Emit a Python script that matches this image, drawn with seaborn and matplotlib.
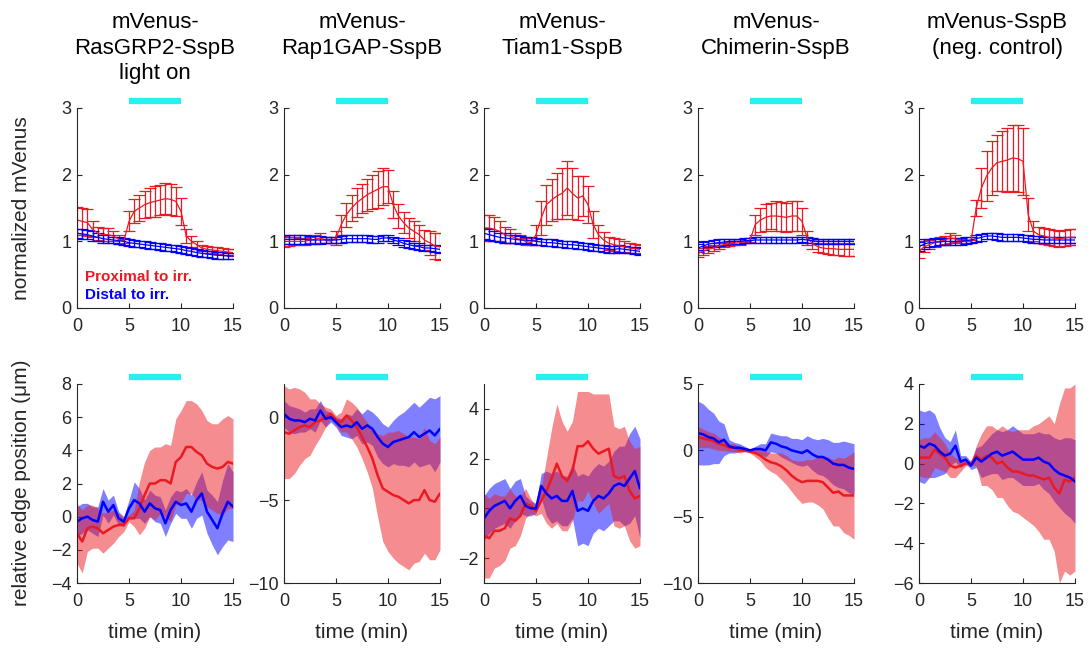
import numpy as np
import matplotlib
matplotlib.use("Agg")
import matplotlib.pyplot as plt
import seaborn as sns

# time points (min)
TIME = np.arange(0, 15.01, 0.5)

TITLES = ["mVenus-\nRasGRP2-SspB\nlight on", "mVenus-\nRap1GAP-SspB", "mVenus-\nTiam1-SspB",
          "mVenus-\nChimerin-SspB", "mVenus-SspB\n(neg. control)"]

# ---- top row: normalized mVenus, mean and error ----
rasgrp2_prox = [1.32, 1.30, 1.28, 1.18, 1.12, 1.10, 1.10, 1.08, 1.03, 1.00, 1.30, 1.45, 1.50, 1.55, 1.58, 1.60,
                1.62, 1.64, 1.63, 1.60, 1.45, 1.08, 1.00, 0.95, 0.90, 0.88, 0.87, 0.86, 0.85, 0.84, 0.83]
rasgrp2_prox_err = [0.20, 0.20, 0.20, 0.12, 0.10, 0.10, 0.10, 0.08, 0.07, 0.03, 0.15, 0.18, 0.20, 0.20, 0.22, 0.23,
                    0.23, 0.23, 0.23, 0.22, 0.20, 0.10, 0.08, 0.06, 0.05, 0.05, 0.05, 0.05, 0.05, 0.05, 0.05]
rasgrp2_dist = [1.12, 1.11, 1.10, 1.08, 1.06, 1.04, 1.03, 1.02, 1.01, 1.00, 0.98, 0.97, 0.96, 0.95, 0.94, 0.93,
                0.92, 0.91, 0.90, 0.89, 0.88, 0.86, 0.85, 0.83, 0.82, 0.81, 0.80, 0.79, 0.79, 0.78, 0.78]
rasgrp2_dist_err = [0.07, 0.07, 0.07, 0.07, 0.06, 0.06, 0.06, 0.05, 0.05, 0.05, 0.05, 0.05, 0.05, 0.05, 0.05, 0.05,
                    0.05, 0.05, 0.05, 0.05, 0.05, 0.05, 0.05, 0.05, 0.05, 0.05, 0.05, 0.05, 0.05, 0.05, 0.05]

rap1gap_prox = [1.00, 1.00, 1.00, 1.00, 1.00, 1.02, 1.03, 1.05, 1.02, 1.00, 1.05, 1.25, 1.40, 1.50, 1.58, 1.64,
                1.70, 1.74, 1.78, 1.82, 1.82, 1.55, 1.38, 1.28, 1.20, 1.15, 1.10, 1.02, 0.98, 0.93, 0.92]
rap1gap_prox_err = [0.08, 0.07, 0.06, 0.05, 0.05, 0.05, 0.06, 0.08, 0.04, 0.03, 0.10, 0.15, 0.18, 0.20, 0.22, 0.22,
                    0.24, 0.26, 0.28, 0.28, 0.25, 0.20, 0.18, 0.16, 0.15, 0.15, 0.15, 0.15, 0.18, 0.20, 0.20]
rap1gap_dist = [1.03, 1.03, 1.03, 1.03, 1.03, 1.02, 1.02, 1.02, 1.02, 1.02, 1.02, 1.03, 1.04, 1.04, 1.04, 1.04,
                1.04, 1.03, 1.03, 1.05, 1.05, 1.02, 1.00, 0.97, 0.95, 0.93, 0.92, 0.90, 0.90, 0.89, 0.88]
rap1gap_dist_err = [0.07, 0.07, 0.07, 0.07, 0.07, 0.06, 0.06, 0.06, 0.05, 0.05, 0.05, 0.05, 0.05, 0.05, 0.05, 0.05,
                    0.05, 0.05, 0.05, 0.05, 0.05, 0.05, 0.05, 0.05, 0.05, 0.05, 0.05, 0.05, 0.05, 0.05, 0.05]

tiam1_prox = [1.20, 1.20, 1.18, 1.15, 1.10, 1.08, 1.05, 1.03, 1.00, 0.98, 1.10, 1.35, 1.55, 1.62, 1.68, 1.72,
              1.80, 1.72, 1.65, 1.68, 1.55, 1.25, 1.10, 1.02, 0.97, 0.95, 0.93, 0.92, 0.90, 0.89, 0.88]
tiam1_prox_err = [0.20, 0.20, 0.18, 0.15, 0.12, 0.10, 0.08, 0.06, 0.05, 0.04, 0.15, 0.25, 0.30, 0.32, 0.35, 0.38,
                  0.40, 0.38, 0.33, 0.30, 0.28, 0.20, 0.15, 0.12, 0.10, 0.10, 0.10, 0.08, 0.08, 0.07, 0.07]
tiam1_dist = [1.12, 1.10, 1.08, 1.06, 1.05, 1.04, 1.03, 1.02, 1.02, 1.01, 1.00, 0.99, 0.98, 0.98, 0.97, 0.96,
              0.95, 0.95, 0.94, 0.93, 0.92, 0.91, 0.90, 0.89, 0.88, 0.88, 0.89, 0.88, 0.87, 0.86, 0.85]
tiam1_dist_err = [0.08, 0.08, 0.08, 0.07, 0.07, 0.06, 0.06, 0.06, 0.05, 0.05, 0.05, 0.05, 0.05, 0.05, 0.05, 0.05,
                  0.05, 0.05, 0.05, 0.05, 0.05, 0.05, 0.05, 0.05, 0.05, 0.05, 0.05, 0.05, 0.05, 0.05, 0.05]

chimerin_prox = [0.82, 0.85, 0.88, 0.90, 0.93, 0.95, 0.96, 0.97, 0.98, 0.99, 1.02, 1.25, 1.32, 1.36, 1.38, 1.38,
                 1.37, 1.36, 1.38, 1.38, 1.30, 1.05, 0.97, 0.92, 0.90, 0.89, 0.89, 0.88, 0.88, 0.88, 0.88]
chimerin_prox_err = [0.05, 0.05, 0.05, 0.04, 0.04, 0.03, 0.03, 0.03, 0.03, 0.02, 0.03, 0.15, 0.18, 0.20, 0.20, 0.22,
                     0.22, 0.22, 0.22, 0.22, 0.20, 0.10, 0.08, 0.08, 0.08, 0.08, 0.09, 0.09, 0.10, 0.10, 0.10]
chimerin_dist = [0.90, 0.93, 0.96, 0.97, 0.98, 0.99, 1.00, 1.00, 1.00, 1.01, 1.01, 1.02, 1.02, 1.02, 1.02, 1.02,
                 1.02, 1.02, 1.02, 1.02, 1.03, 1.02, 1.01, 1.00, 1.00, 1.00, 1.00, 1.00, 1.00, 1.00, 1.00]
chimerin_dist_err = [0.06, 0.06, 0.05, 0.05, 0.05, 0.04, 0.04, 0.04, 0.04, 0.04, 0.04, 0.04, 0.04, 0.04, 0.04, 0.04,
                     0.04, 0.04, 0.04, 0.04, 0.04, 0.04, 0.04, 0.04, 0.04, 0.04, 0.04, 0.04, 0.04, 0.04, 0.04]

sspb_prox = [0.85, 0.92, 0.95, 0.98, 1.00, 1.02, 1.05, 1.04, 1.00, 1.00, 1.00, 1.50, 1.80, 1.98, 2.10, 2.18,
             2.20, 2.22, 2.25, 2.24, 2.20, 1.40, 1.15, 1.10, 1.08, 1.06, 1.05, 1.04, 1.05, 1.06, 1.06]
sspb_prox_err = [0.10, 0.08, 0.07, 0.06, 0.06, 0.06, 0.07, 0.05, 0.03, 0.02, 0.02, 0.12, 0.30, 0.38, 0.40, 0.42,
                 0.45, 0.48, 0.50, 0.50, 0.50, 0.25, 0.15, 0.12, 0.12, 0.12, 0.12, 0.12, 0.12, 0.12, 0.12]
sspb_dist = [0.92, 0.96, 0.98, 0.99, 0.99, 1.00, 1.00, 1.00, 1.00, 1.01, 1.02, 1.04, 1.06, 1.08, 1.08, 1.07,
             1.06, 1.06, 1.06, 1.06, 1.05, 1.04, 1.03, 1.03, 1.02, 1.02, 1.02, 1.02, 1.02, 1.02, 1.02]
sspb_dist_err = [0.07, 0.07, 0.06, 0.06, 0.05, 0.05, 0.05, 0.05, 0.05, 0.05, 0.05, 0.05, 0.05, 0.05, 0.05, 0.05,
                 0.05, 0.05, 0.05, 0.05, 0.05, 0.05, 0.05, 0.05, 0.05, 0.05, 0.05, 0.05, 0.05, 0.05, 0.05]

# ---- bottom row: relative edge position, mean and sd ----
rasgrp2_edge_prox = [-1.0, -1.5, -0.7, -0.6, -0.7, -1.0, -0.8, -0.6, -0.5, -0.5, -0.1, -0.1, 0.5, 1.3, 2.0, 2.0,
                     2.2, 2.2, 2.0, 3.3, 3.6, 4.2, 4.2, 3.9, 3.7, 3.2, 3.0, 2.9, 3.0, 3.3, 3.2]
rasgrp2_edge_prox_sd = [1.8, 1.9, 1.4, 1.3, 1.2, 1.2, 1.1, 1.0, 0.7, 0.4, 0.2, 0.5, 1.6, 2.0, 2.0, 2.2,
                        2.0, 2.2, 2.3, 2.6, 2.8, 2.8, 2.8, 2.9, 2.7, 2.6, 2.6, 2.7, 2.9, 2.8, 2.7]
rasgrp2_edge_dist = [-0.3, -0.1, 0.0, -0.2, -0.3, 0.9, 0.3, 0.7, -0.1, -0.3, 0.5, 1.0, 0.8, 0.3, 0.8, 0.5,
                     0.4, -0.4, 0.4, 0.9, 0.7, 0.8, 0.3, 1.0, 1.4, 0.3, -0.2, -0.7, 0.2, 0.9, 0.6]
rasgrp2_edge_dist_sd = [0.9, 0.9, 0.8, 0.8, 0.9, 0.8, 0.7, 0.6, 0.4, 0.3, 0.5, 1.1, 0.9, 0.7, 0.8, 0.8,
                        0.8, 0.8, 0.8, 0.7, 0.8, 0.9, 1.0, 1.1, 1.3, 1.3, 1.5, 1.6, 2.0, 2.3, 2.1]

rap1gap_edge_prox = [-0.9, -1.0, -0.8, -0.6, -0.5, -0.6, -0.3, -0.2, 0.0, 0.2, -0.2, -0.3, 0.1, -0.2, -0.6, -1.2,
                     -1.8, -2.5, -3.5, -4.3, -4.5, -4.7, -4.8, -5.0, -5.2, -5.0, -5.0, -4.4, -5.0, -5.1, -4.6]
rap1gap_edge_prox_sd = [2.8, 2.7, 2.6, 2.3, 2.0, 1.7, 1.4, 1.0, 0.6, 0.3, 0.3, 0.6, 1.0, 1.1, 1.2, 1.3,
                        1.5, 1.8, 2.5, 3.2, 3.6, 3.8, 4.0, 4.0, 4.0, 3.8, 3.7, 3.8, 3.6, 3.5, 3.4]
rap1gap_edge_dist = [0.2, -0.1, -0.2, -0.2, -0.3, -0.1, -0.2, 0.4, -0.1, 0.0, -0.3, -0.6, -0.5, -0.6, -0.3, -0.7,
                     -0.5, -0.7, -1.2, -1.6, -1.8, -1.5, -1.4, -1.3, -1.2, -0.9, -1.2, -1.0, -0.8, -1.1, -0.7]
rap1gap_edge_dist_sd = [0.8, 0.8, 0.8, 0.7, 0.6, 0.6, 0.7, 0.6, 0.5, 0.3, 0.3, 0.5, 0.7, 0.7, 0.8, 0.9,
                        1.0, 1.0, 1.2, 1.2, 1.2, 1.3, 1.5, 1.6, 1.8, 1.8, 1.8, 1.9, 2.0, 2.2, 2.0]

tiam1_edge_prox = [-1.1, -1.2, -0.9, -0.9, -0.8, -0.4, -0.5, -0.3, 0.2, 0.1, -0.1, 0.3, 0.7, 1.2, 1.8, 1.3,
                   1.1, 1.5, 2.5, 2.5, 2.7, 2.4, 2.2, 2.3, 2.4, 1.3, 1.2, 1.3, 0.7, 0.4, 0.5]
tiam1_edge_prox_sd = [1.7, 1.6, 1.5, 1.4, 1.3, 1.2, 1.0, 0.8, 0.6, 0.3, 0.2, 0.5, 1.3, 2.0, 2.4, 2.2,
                      2.0, 2.0, 2.2, 2.2, 2.0, 2.2, 2.4, 2.3, 2.2, 2.0, 2.0, 2.0, 2.0, 2.0, 2.0]
tiam1_edge_dist = [-0.4, -0.1, 0.1, 0.2, 0.3, 0.0, 0.3, 0.5, 0.1, 0.0, 0.0, 0.9, 0.6, 0.4, 0.5, 0.3,
                   0.3, 0.7, -0.1, 0.0, -0.1, 0.3, 0.5, 0.4, 0.6, 0.9, 1.0, 0.9, 1.2, 1.5, 0.8]
tiam1_edge_dist_sd = [0.9, 0.9, 0.9, 0.9, 0.9, 0.8, 0.8, 0.7, 0.4, 0.3, 0.2, 0.5, 0.9, 1.0, 1.0, 1.0,
                      1.0, 1.1, 1.4, 1.4, 1.4, 1.3, 1.3, 1.3, 1.3, 1.4, 1.5, 1.6, 1.8, 1.8, 2.0]

chimerin_edge_prox = [1.0, 0.9, 0.8, 0.7, 0.5, 0.4, 0.2, 0.2, 0.0, 0.0, -0.1, -0.2, -0.4, -0.7, -0.9, -1.0,
                      -1.2, -1.5, -1.9, -2.2, -2.4, -2.3, -2.3, -2.3, -2.4, -2.8, -3.2, -3.1, -3.4, -3.4, -3.4]
chimerin_edge_prox_sd = [0.8, 0.7, 0.6, 0.6, 0.5, 0.4, 0.3, 0.3, 0.2, 0.1, 0.1, 0.3, 0.4, 0.6, 0.7, 0.8,
                         1.0, 1.1, 1.2, 1.4, 1.6, 1.6, 1.6, 1.8, 2.0, 2.3, 2.5, 2.6, 2.8, 3.0, 3.3]
chimerin_edge_dist = [1.3, 1.2, 1.0, 0.9, 0.6, 0.8, 0.3, 0.2, 0.2, 0.1, 0.0, 0.1, 0.1, 0.0, 0.6, 0.5,
                      0.3, 0.2, 0.0, -0.1, -0.2, 0.0, -0.3, -0.5, -0.5, -0.7, -1.0, -1.1, -1.1, -1.3, -1.4]
chimerin_edge_dist_sd = [2.4, 2.3, 2.1, 1.9, 1.6, 1.2, 0.5, 0.4, 0.3, 0.2, 0.1, 0.2, 0.4, 0.5, 0.7, 0.7,
                         0.8, 0.9, 0.9, 1.0, 1.0, 1.1, 1.2, 1.3, 1.4, 1.5, 1.6, 1.7, 1.8, 1.9, 1.9]

sspb_edge_prox = [0.3, 0.3, 0.3, 0.7, 0.5, 0.3, -0.1, -0.2, -0.1, 0.0, 0.0, 0.4, 0.2, 0.4, 0.3, 0.0,
                  0.1, -0.2, -0.4, -0.4, -0.5, -0.6, -0.6, -0.7, -0.8, -0.7, -1.2, -1.5, -0.8, -0.9, -0.7]
sspb_edge_prox_sd = [0.9, 1.0, 1.0, 0.9, 0.8, 0.7, 0.6, 0.5, 0.3, 0.1, 0.1, 0.5, 1.3, 1.5, 1.6, 1.7,
                     1.8, 1.9, 2.0, 2.1, 2.2, 2.3, 2.5, 2.7, 3.0, 3.1, 3.2, 4.5, 4.6, 4.7, 4.7]
sspb_edge_dist = [0.9, 0.8, 1.0, 0.9, 0.6, 0.4, 0.5, 0.9, 0.1, 0.2, -0.1, 0.3, 0.1, 0.3, 0.5, 0.6,
                  0.4, 0.5, 0.6, 0.4, 0.2, 0.2, 0.2, 0.3, 0.1, 0.0, -0.3, -0.5, -0.6, -0.7, -0.9]
sspb_edge_dist_sd = [1.8, 1.8, 1.7, 1.6, 1.2, 0.9, 0.6, 0.8, 0.3, 0.2, 0.2, 0.5, 0.8, 0.9, 1.0, 1.1,
                     1.2, 1.2, 1.3, 1.3, 1.3, 1.3, 1.3, 1.3, 1.4, 1.5, 1.6, 1.7, 1.9, 2.0, 2.1]

TOP = [
    (rasgrp2_prox, rasgrp2_prox_err, rasgrp2_dist, rasgrp2_dist_err),
    (rap1gap_prox, rap1gap_prox_err, rap1gap_dist, rap1gap_dist_err),
    (tiam1_prox, tiam1_prox_err, tiam1_dist, tiam1_dist_err),
    (chimerin_prox, chimerin_prox_err, chimerin_dist, chimerin_dist_err),
    (sspb_prox, sspb_prox_err, sspb_dist, sspb_dist_err),
]
BOTTOM = [
    (rasgrp2_edge_prox, rasgrp2_edge_prox_sd, rasgrp2_edge_dist, rasgrp2_edge_dist_sd),
    (rap1gap_edge_prox, rap1gap_edge_prox_sd, rap1gap_edge_dist, rap1gap_edge_dist_sd),
    (tiam1_edge_prox, tiam1_edge_prox_sd, tiam1_edge_dist, tiam1_edge_dist_sd),
    (chimerin_edge_prox, chimerin_edge_prox_sd, chimerin_edge_dist, chimerin_edge_dist_sd),
    (sspb_edge_prox, sspb_edge_prox_sd, sspb_edge_dist, sspb_edge_dist_sd),
]
EDGE_YLIM = [(-4, 8), (-10, 2), (-3, 5), (-10, 5), (-6, 4)]
EDGE_YTICKS = [[-4, -2, 0, 2, 4, 6, 8], [-10, -5, 0], [-2, 0, 2, 4], [-10, -5, 0, 5], [-6, -4, -2, 0, 2, 4]]

RED = "#eb1a22"
BLUE = "#0000ff"
CYAN = "#26f0f0"
DARK = "#262626"

sns.set_style("ticks")
plt.rcParams["font.family"] = ["Liberation Sans", "DejaVu Sans"]
plt.rcParams["axes.edgecolor"] = DARK
plt.rcParams["axes.linewidth"] = 0.8
plt.rcParams["xtick.color"] = DARK
plt.rcParams["ytick.color"] = DARK

W, H = 1092, 651
fig = plt.figure(figsize=(W / 100, H / 100), dpi=100)

lefts = [77, 284, 484, 698, 919]
aw = 156 / W
ah = 200 / H


def style(ax):
    sns.despine(ax=ax)
    ax.tick_params(direction="in", length=3.5, width=0.8, labelsize=13)
    ax.tick_params(axis="x", pad=7)
    ax.tick_params(axis="y", pad=4)
    ax.set_xlim(0, 15)
    ax.set_xticks([0, 5, 10, 15])
    ax.plot([5, 10], [1.035, 1.035], transform=ax.get_xaxis_transform(), clip_on=False,
            color=CYAN, lw=4.5, solid_capstyle="butt")


for i in range(5):
    x0 = lefts[i] / W
    # top panel
    ax = fig.add_axes([x0, (H - 308) / H, aw, ah])
    prox, prox_err, dist, dist_err = TOP[i]
    ax.errorbar(TIME, prox, yerr=prox_err, color=RED, lw=0.9, elinewidth=0.9, capsize=4.5, capthick=0.9)
    ax.errorbar(TIME, dist, yerr=dist_err, color=BLUE, lw=0.9, elinewidth=0.9, capsize=4.5, capthick=0.9)
    ax.set_ylim(0, 3)
    ax.set_yticks([0, 1, 2, 3])
    style(ax)
    fig.text(x0 + aw / 2, 0.982, TITLES[i], ha="center", va="top", fontsize=16, linespacing=1.3, color="black")
    if i == 0:
        ax.text(0.75, 0.46, "Proximal to irr.", color=RED, fontsize=11, fontweight="bold", va="center")
        ax.text(0.75, 0.19, "Distal to irr.", color=BLUE, fontsize=11, fontweight="bold", va="center")

    # bottom panel
    bx = fig.add_axes([x0, (H - 583) / H, aw, 199 / H])
    eprox, eprox_sd, edist, edist_sd = BOTTOM[i]
    eprox, eprox_sd = np.array(eprox), np.array(eprox_sd)
    edist, edist_sd = np.array(edist), np.array(edist_sd)
    bx.fill_between(TIME, edist - edist_sd, edist + edist_sd, color=BLUE, alpha=0.5, lw=0)
    bx.fill_between(TIME, eprox - eprox_sd, eprox + eprox_sd, color=RED, alpha=0.5, lw=0)
    sns.lineplot(x=TIME, y=eprox, ax=bx, color=RED, lw=1.8)
    sns.lineplot(x=TIME, y=edist, ax=bx, color=BLUE, lw=1.8)
    bx.set_ylim(*EDGE_YLIM[i])
    bx.set_yticks(EDGE_YTICKS[i])
    style(bx)
    fig.text(x0 + aw / 2, 1 - 632 / H, "time (min)", ha="center", va="center", fontsize=15, color=DARK)

fig.text(22 / W, 1 - 208 / H, "normalized mVenus", rotation=90, ha="center", va="center", fontsize=15, color=DARK)
fig.text(22 / W, 1 - 483 / H, "relative edge position (μm)", rotation=90, ha="center", va="center",
         fontsize=15, color=DARK)

fig.savefig("out.png", dpi=100)
